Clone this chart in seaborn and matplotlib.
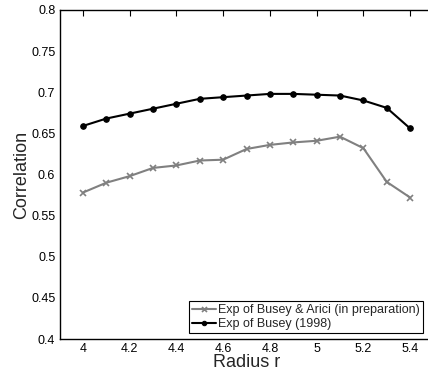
import matplotlib
matplotlib.use("Agg")
import matplotlib.pyplot as plt
import seaborn as sns
import pandas as pd

radius = [4.0, 4.1, 4.2, 4.3, 4.4, 4.5, 4.6, 4.7, 4.8, 4.9, 5.0, 5.1, 5.2, 5.3, 5.4]
busey_arici = [0.578, 0.590, 0.598, 0.608, 0.611, 0.617, 0.618, 0.631, 0.636, 0.639, 0.641, 0.646, 0.632, 0.591, 0.572]
busey_1998 = [0.659, 0.668, 0.674, 0.680, 0.686, 0.692, 0.694, 0.696, 0.698, 0.698, 0.697, 0.696, 0.690, 0.681, 0.656]
labels = ["Exp of Busey & Arici (in preparation)", "Exp of Busey (1998)"]
yticks = [0.4, 0.45, 0.5, 0.55, 0.6, 0.65, 0.7, 0.75, 0.8]
xticks = [4, 4.2, 4.4, 4.6, 4.8, 5, 5.2, 5.4]

sns.set_style("white")
plt.rcParams['font.family'] = ['Liberation Sans', 'DejaVu Sans']

df1 = pd.DataFrame({"radius": radius, "corr": busey_arici})
df2 = pd.DataFrame({"radius": radius, "corr": busey_1998})

fig = plt.figure(figsize=(4.28, 3.75), dpi=100)
ax = fig.add_axes([59.5 / 428, 36 / 375, 374 / 428, 329 / 375])

sns.lineplot(data=df1, x="radius", y="corr", color="#808080", marker="x",
             linewidth=1.5, markersize=4.5, markeredgewidth=1.2,
             markeredgecolor="#808080", label=labels[0], ax=ax)
sns.lineplot(data=df2, x="radius", y="corr", color="#000000", marker="o",
             linewidth=1.5, markersize=4, markeredgecolor="#000000",
             label=labels[1], ax=ax)

ax.set_xlim(3.9, 5.5)
ax.set_ylim(0.4, 0.8)
ax.set_xticks(xticks)
ax.set_xticklabels([f"{t:g}" for t in xticks])
ax.set_yticks(yticks)
ax.set_yticklabels([f"{t:g}" for t in yticks])
ax.tick_params(direction="in", top=True, right=True, length=4, width=0.8,
               labelsize=9, colors="black", pad=3)
for s in ax.spines.values():
    s.set_color("black")
    s.set_linewidth(1.0)
ax.set_xlabel("Radius r", fontsize=13, labelpad=-1)
ax.set_ylabel("Correlation", fontsize=13, labelpad=1)

leg = ax.legend(loc="lower right", bbox_to_anchor=((423 - 59.5) / 374, 6 / 329),
                fontsize=9, frameon=True, fancybox=False, borderpad=0.25,
                handlelength=1.9, handletextpad=0.2, labelspacing=0.15,
                borderaxespad=0.0, markerscale=0.8)
leg.get_frame().set_edgecolor("black")
leg.get_frame().set_linewidth(0.8)
leg.get_frame().set_alpha(1)

fig.savefig("out.png", dpi=100)
